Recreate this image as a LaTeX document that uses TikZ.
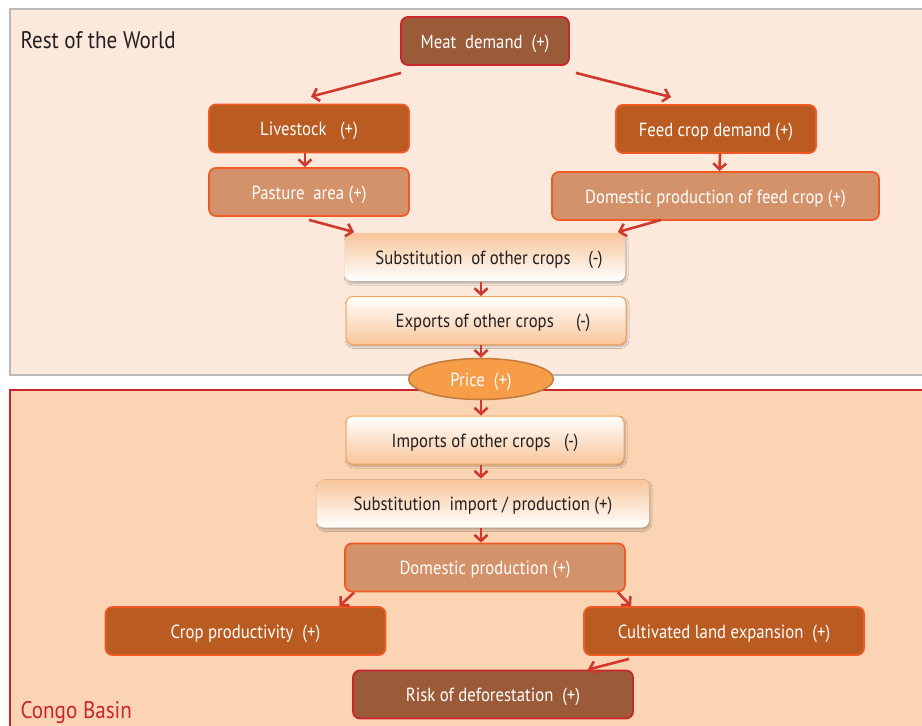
\documentclass[tikz,border=0pt]{standalone}
\usepackage{fontspec}
\setmainfont{PT Sans}[FakeStretch=0.88]
\usetikzlibrary{arrows.meta,shapes.geometric,shadows.blur}
\definecolor{worldfill}{RGB}{252,233,219}
\definecolor{worldline}{RGB}{185,185,187}
\definecolor{congofill}{RGB}{250,212,179}
\definecolor{congoline}{RGB}{201,37,44}
\definecolor{meatbrown}{RGB}{155,91,56}
\definecolor{rust}{RGB}{186,91,34}
\definecolor{clay}{RGB}{212,146,106}
\definecolor{edgeorange}{RGB}{241,90,36}
\definecolor{arrowred}{RGB}{208,57,43}
\definecolor{pricefill}{RGB}{247,156,71}
\definecolor{priceline}{RGB}{194,123,62}
\definecolor{peach}{RGB}{248,197,154}
\definecolor{peachline}{RGB}{247,165,90}
\definecolor{textdark}{RGB}{35,31,32}

\begin{document}
\begin{tikzpicture}[x=1pt, y=-1pt,
    box/.style={rounded corners=7pt, minimum height=48pt, line width=1.8pt,
      text=white, font=\fontsize{19}{21}\selectfont, text height=16pt, text depth=2pt},
    darkbox/.style={box, fill=rust, draw=edgeorange},
    lightbox/.style={box, fill=clay, draw=edgeorange},
    brownbox/.style={box, fill=meatbrown, draw=congoline},
    fadebox/.style={box, text=textdark, top color=peach, bottom color=white,
      blur shadow={shadow xshift=1pt, shadow yshift=-2pt, shadow opacity=30}},
    risebox/.style={box, text=textdark, top color=white, bottom color=peach,
      draw=peachline, line width=1pt,
      blur shadow={shadow xshift=1pt, shadow yshift=-2pt, shadow opacity=30}},
    flow/.style={draw=arrowred, line width=2.6pt,
      -{Straight Barb[length=6pt, width=13pt]}}]
  \clip (0,0) rectangle (922,726);
  \draw[fill=worldfill, draw=worldline, line width=2.5pt] (10,9) rectangle (940,375);
  \draw[fill=congofill, draw=congoline, line width=2pt] (10,390) rectangle (940,740);
  \node[anchor=west, text=textdark, font=\fontsize{24}{26}\selectfont] (world) at (17,40) {Rest of the World};
  \node[anchor=west, text=congoline, font=\fontsize{24}{26}\selectfont] (congo) at (17,712) {Congo Basin};

  \node[brownbox, minimum width=168pt] (meat) at (485,41) {Meat\ \ demand\ \ (+)};
  \node[darkbox, minimum width=200pt] (livestock) at (309,128.5) {Livestock\ \ \ (+)};
  \node[lightbox, minimum width=200pt] (pasture) at (309,192) {Pasture\ \ area (+)};
  \node[darkbox, minimum width=200pt] (feeddemand) at (716,129) {Feed crop demand (+)};
  \node[lightbox, minimum width=327pt] (feedprod) at (715.5,196) {Domestic production of feed crop (+)};
  \node[fadebox, minimum width=280pt] (substitution) at (485,257) {\hspace{8pt}Substitution\ \ of other crops\ \ \ \ (-)};
  \node[risebox, minimum width=280pt] (exports) at (486,320.5) {\hspace{14pt}Exports of other crops\ \ \ \ \ (-)};
  \node[ellipse, fill=pricefill, draw=priceline, line width=1.5pt, minimum width=145pt,
        minimum height=41pt, text=white, font=\fontsize{19}{21}\selectfont,
        text height=16pt, text depth=2pt] (price) at (481,379) {Price\ \ (+)};
  \node[risebox, minimum width=278pt] (imports) at (485,440) {Imports of other crops\ \ \ (-)};
  \node[fadebox, minimum width=332pt] (subimport) at (483,503.5) {Substitution\ \ import / production (+)};
  \node[lightbox, minimum width=280pt] (domprod) at (485,567.5) {Domestic production (+)};
  \node[darkbox, minimum width=280pt] (productivity) at (245.5,631) {Crop productivity\ \ (+)};
  \node[darkbox, minimum width=280pt] (expansion) at (724,631) {Cultivated land expansion\ \ (+)};
  \node[brownbox, minimum width=280pt] (risk) at (493,694.5) {Risk of deforestation\ \ (+)};

  \draw[flow] ([xshift=1pt,yshift=-7pt]meat.south west) -- ([xshift=2pt,yshift=7pt]livestock.north);
  \draw[flow] ([xshift=6pt,yshift=-7pt]meat.south east) -- ([xshift=-45pt,yshift=7pt]feeddemand.north);
  \draw[flow] ([xshift=-4pt]livestock.south) -- ([xshift=-4pt]pasture.north);
  \draw[flow] ([xshift=4pt]feeddemand.south) -- ([xshift=4pt]feedprod.north);
  \draw[flow] ([yshift=-3pt]pasture.south) -- ([xshift=10pt]substitution.north west);
  \draw[flow] ([xshift=110pt,yshift=1pt]feedprod.south west) -- ([xshift=-8pt]substitution.north east);
  \draw[flow] ([xshift=-4pt]substitution.south) -- ([xshift=-5pt]exports.north);
  \draw[flow] ([xshift=-5pt]exports.south) -- (price.north);
  \draw[flow] (price.south) -- ([xshift=-4pt]imports.north);
  \draw[flow] ([xshift=-4pt]imports.south) -- ([xshift=-2pt]subimport.north);
  \draw[flow] ([xshift=-2pt]subimport.south) -- ([xshift=-4pt]domprod.north);
  \draw[flow] ([xshift=10pt]domprod.south west) -- ([xshift=-47pt]productivity.north east);
  \draw[flow] ([xshift=-8pt]domprod.south east) -- ([xshift=48pt]expansion.north west);
  \draw[flow] ([xshift=46pt,yshift=-3pt]expansion.south west) -- ([xshift=-46pt]risk.north east);
\end{tikzpicture}
\end{document}
